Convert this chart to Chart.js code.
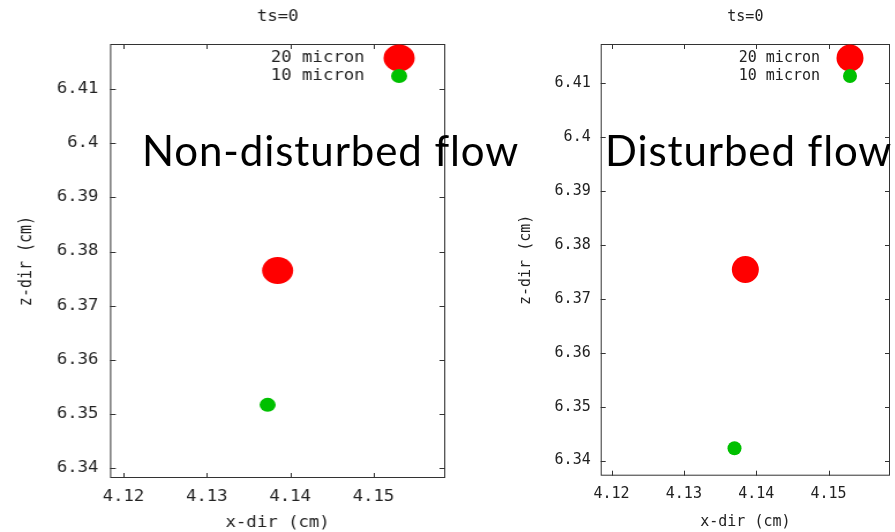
<!DOCTYPE html>
<html>
<head>
<meta charset="utf-8">
<script src="https://cdn.jsdelivr.net/npm/chart.js@4.4.0/dist/chart.umd.min.js"></script>
<style>
    html, body { margin: 0; padding: 0; background: #fff; }
    body { width: 895px; height: 532px; position: relative; overflow: hidden; }
    canvas { display: block; }
    /* the left plot in the source picture is stretched sideways */
    #leftChart { position: absolute; left: 0; top: 0;
                 transform: scaleX(1.1535); transform-origin: 0 0; }
    #rightChart { position: absolute; left: 455px; top: 0; }
    .note { position: absolute; font-family: Lato, sans-serif; font-size: 42px; color: #000;
            white-space: nowrap; line-height: 40px; letter-spacing: 0.9px; }
</style>
</head>
<body>
<canvas id="leftChart" width="394" height="532"></canvas>
<canvas id="rightChart" width="440" height="532"></canvas>
<div class="note" style="left:142px; top:130px;">Non-disturbed flow</div>
<div class="note" style="left:605px; top:130px;">Disturbed flow</div>

<script>
const sizeLabels = ['20 micron', '10 micron'];
const sizeColors = ['#ff0000', '#00c000'];
const xTicks = [4.12, 4.13, 4.14, 4.15];
const zTicks = [6.34, 6.35, 6.36, 6.37, 6.38, 6.39, 6.40, 6.41];

// non-disturbed flow, ts=0
const calmX20 = [4.1385];
const calmZ20 = [6.3765];
const calmX10 = [4.1373];
const calmZ10 = [6.3517];

// disturbed flow, ts=0
const distX20 = [4.1385];
const distZ20 = [6.3754];
const distX10 = [4.1370];
const distZ10 = [6.3423];

const monoFont = 'DejaVu Sans Mono';
const textColor = '#222';

// gnuplot style box with ticks pointing inward on all sides
const framePlugin = {
    id: 'frame',
    beforeDatasetsDraw(chart) {
        const {ctx, chartArea: a, scales} = chart;
        ctx.save();
        ctx.strokeStyle = '#333';
        ctx.lineWidth = 1;
        ctx.strokeRect(a.left + 0.5, a.top + 0.5, a.width - 1, a.height - 1);
        ctx.beginPath();
        scales.x.ticks.forEach(t => {
            const px = Math.round(scales.x.getPixelForValue(t.value)) + 0.5;
            ctx.moveTo(px, a.bottom); ctx.lineTo(px, a.bottom - 5);
            ctx.moveTo(px, a.top); ctx.lineTo(px, a.top + 5);
        });
        scales.y.ticks.forEach(t => {
            const py = Math.round(scales.y.getPixelForValue(t.value)) + 0.5;
            ctx.moveTo(a.left, py); ctx.lineTo(a.left + 5, py);
            ctx.moveTo(a.right, py); ctx.lineTo(a.right - 5, py);
        });
        ctx.stroke();
        ctx.restore();
    }
};

// key in the top right corner, text left of the marker
const keyPlugin = {
    id: 'key',
    afterDatasetsDraw(chart) {
        const {ctx, chartArea: a} = chart;
        ctx.save();
        ctx.font = '15px "' + monoFont + '"';
        ctx.textAlign = 'right';
        ctx.textBaseline = 'middle';
        chart.data.datasets.forEach((ds, i) => {
            const y = a.top + 14 + i * 18;
            ctx.fillStyle = textColor;
            ctx.fillText(ds.label, a.right - 70, y);
            ctx.fillStyle = ds.backgroundColor;
            ctx.beginPath();
            ctx.arc(a.right - 40, y, ds.pointRadius, 0, Math.PI * 2);
            ctx.fill();
        });
        ctx.restore();
    }
};

function makePanel(id, opts) {
    const ctx = document.getElementById(id).getContext('2d');
    return new Chart(ctx, {
        type: 'scatter',
        data: {
            datasets: [
                {
                    label: sizeLabels[0],
                    data: opts.x20.map((x, i) => ({x: x, y: opts.z20[i]})),
                    backgroundColor: sizeColors[0],
                    borderWidth: 0,
                    pointRadius: 13.5
                },
                {
                    label: sizeLabels[1],
                    data: opts.x10.map((x, i) => ({x: x, y: opts.z10[i]})),
                    backgroundColor: sizeColors[1],
                    borderWidth: 0,
                    pointRadius: 7
                }
            ]
        },
        options: {
            responsive: false,
            animation: false,
            layout: {autoPadding: false, padding: {right: opts.padRight}},
            plugins: {
                legend: {display: false},
                tooltip: {enabled: false},
                title: {
                    display: true,
                    fullSize: false,
                    text: 'ts=0',
                    color: textColor,
                    font: {family: monoFont, size: 15, weight: 'normal'},
                    padding: {top: 8, bottom: 18}
                }
            },
            scales: {
                x: {
                    type: 'linear',
                    min: opts.xMin,
                    max: opts.xMax,
                    afterBuildTicks: s => { s.ticks = xTicks.map(v => ({value: v})); },
                    afterFit: s => { s.height = opts.xHeight; },
                    grid: {display: false, drawTicks: false},
                    border: {display: false},
                    ticks: {
                        color: textColor,
                        font: {family: monoFont, size: 15},
                        padding: opts.xPad,
                        maxRotation: 0,
                        callback: v => String(v)
                    },
                    title: {
                        display: true,
                        text: 'x-dir (cm)',
                        color: textColor,
                        font: {family: monoFont, size: 15},
                        padding: {top: 0, bottom: opts.xTitlePad}
                    }
                },
                y: {
                    type: 'linear',
                    min: opts.zMin,
                    max: opts.zMax,
                    afterBuildTicks: s => { s.ticks = zTicks.map(v => ({value: v})); },
                    afterFit: s => { s.width = opts.yWidth; },
                    grid: {display: false, drawTicks: false},
                    border: {display: false},
                    ticks: {
                        color: textColor,
                        font: {family: monoFont, size: 15},
                        padding: 10,
                        callback: v => String(v)
                    },
                    title: {
                        display: true,
                        text: 'z-dir (cm)',
                        color: textColor,
                        font: {family: monoFont, size: 15},
                        padding: {top: opts.yTitlePad, bottom: 0}
                    }
                }
            }
        },
        plugins: [framePlugin, keyPlugin]
    });
}

makePanel('leftChart', {
    x20: calmX20, z20: calmZ20, x10: calmX10, z10: calmZ10,
    xMin: 4.1184, xMax: 4.1586, zMin: 6.3382, zMax: 6.4183,
    padRight: 8, yWidth: 95.4, xHeight: 54, xPad: 10, xTitlePad: 0, yTitlePad: 14
});

makePanel('rightChart', {
    x20: distX20, z20: distZ20, x10: distX10, z10: distZ10,
    xMin: 4.1185, xMax: 4.1585, zMin: 6.3372, zMax: 6.4172,
    padRight: 5, yWidth: 145.7, xHeight: 56.3, xPad: 9, xTitlePad: 1, yTitlePad: 62
});
</script>
</body>
</html>
